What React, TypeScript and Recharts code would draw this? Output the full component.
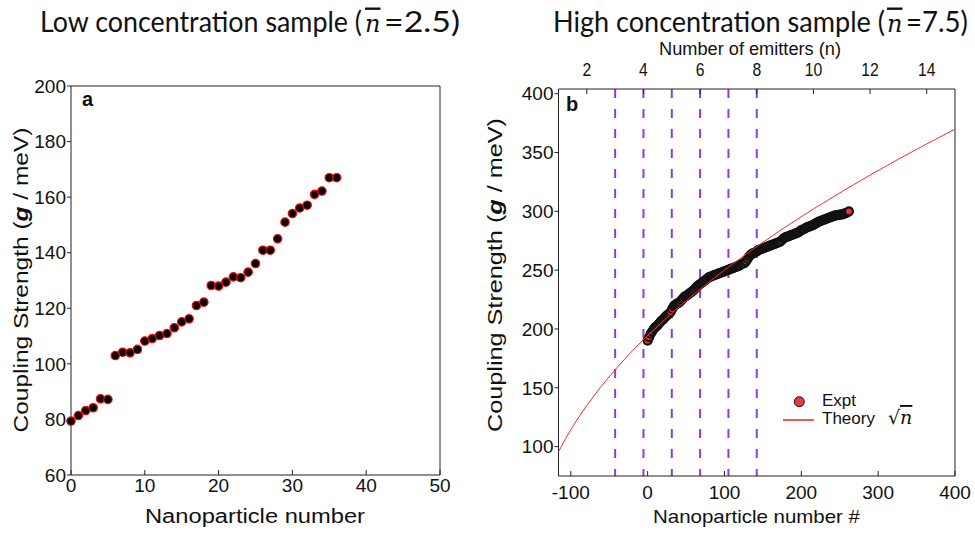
import React from 'react';
import { ComposedChart, Scatter, XAxis, YAxis, ReferenceLine } from 'recharts';

// ---------- Panel a : low concentration sample ----------
const lowIndex = [0, 1, 2, 3, 4, 5, 6, 7, 8, 9, 10, 11, 12, 13, 14, 15, 16, 17, 18, 19, 20, 21, 22, 23, 24, 25, 26, 27, 28, 29, 30, 31, 32, 33, 34, 35, 36];
const lowG = [79.4, 81.4, 83.2, 84.2, 87.4, 87.2, 103, 104.2, 104, 105.2, 108.2, 109.1, 110.2, 110.9, 113, 115.1, 116.2, 121, 122.2, 128.2, 128, 129.4, 131.3, 131, 133, 136.1, 140.9, 140.9, 145, 151, 154.1, 156.1, 157.1, 161, 162.2, 167, 167];
const lowXTicks = [0, 10, 20, 30, 40, 50];
const lowYTicks = [60, 80, 100, 120, 140, 160, 180, 200];

// ---------- Panel b : high concentration sample ----------
const highIndex = [0, 2, 4, 6, 8, 10, 12, 14, 16, 18, 20, 22, 24, 26, 28, 30, 32, 34, 36, 38, 40, 42, 44, 46, 48, 50, 52, 54, 56, 58, 60, 62, 64, 66, 68, 70, 72, 74, 76, 78, 80, 82, 84, 86, 88, 90, 92, 94, 96, 98, 100, 102, 104, 106, 108, 110, 112, 114, 116, 118, 120, 122, 124, 126, 128, 130, 132, 134, 136, 138, 140, 142, 144, 146, 148, 150, 152, 154, 156, 158, 160, 162, 164, 166, 168, 170, 172, 174, 176, 178, 180, 182, 184, 186, 188, 190, 192, 194, 196, 198, 200, 202, 204, 206, 208, 210, 212, 214, 216, 218, 220, 222, 224, 226, 228, 230, 232, 234, 236, 238, 240, 242, 244, 246, 248, 250, 252, 254, 256, 258, 260, 262];
const highG = [190, 193, 196, 198, 200, 201.5, 202.5, 204, 205.5, 207, 208, 209.5, 211, 212, 213, 214.5, 217, 219.5, 220.5, 221.5, 222, 223, 224.5, 226, 227.5, 228, 229, 230, 231, 232, 233, 234.5, 236, 237, 238, 239, 240, 241, 242, 243, 244, 244.5, 245, 245.5, 246, 246.5, 247, 247.5, 248, 248.5, 249, 249.5, 250, 250.5, 251, 251.5, 252, 252.5, 253, 253.5, 254, 255, 255.5, 256, 257.5, 259.5, 261.5, 263, 264, 264.5, 265, 266, 267, 267.5, 268, 268.5, 269, 269.5, 270, 270.5, 271, 271.5, 272, 272.5, 273, 273.5, 274, 275, 276.5, 277.5, 278, 278.5, 279, 279.5, 280, 280.5, 281, 281.5, 282, 283, 284, 284.5, 285, 286, 286.5, 287, 287.5, 288, 288.5, 289.5, 290, 291, 291.5, 292, 292.5, 293, 293.5, 294, 294.5, 295, 295.5, 296, 296.5, 296.5, 297, 297, 297.5, 297.5, 298, 298.5, 299, 300];
const theoryN = [1, 1.25, 1.5, 1.75, 2, 2.5, 3, 3.5, 4, 5, 6, 7, 8, 9, 10, 11, 12, 13, 14, 15];
const theoryG = [95.5, 106.8, 117, 126.3, 135.1, 151, 165.4, 178.7, 191, 213.5, 233.9, 252.7, 270.1, 286.5, 302, 316.7, 330.8, 344.3, 357.3, 369.9];
const emitterLines = [3, 4, 5, 6, 7, 8];
const highXTicks = [-100, 0, 100, 200, 300, 400];
const highYTicks = [100, 150, 200, 250, 300, 350, 400];
const topTicks = [2, 4, 6, 8, 10, 12, 14];

const lowData = lowIndex.map((x, i) => ({ x, g: lowG[i] }));
const highData = highIndex.map((x, i) => ({ x, g: highG[i] }));
const theoryData = theoryN.map((n, i) => ({ n, g: theoryG[i] }));

const AX = '#222';
const SANS = "'Liberation Sans', Arial, sans-serif";
const NARROW = "'Liberation Sans Narrow', 'Arial Narrow', 'Liberation Sans', sans-serif";
const TITLE = "Lato, 'Open Sans', sans-serif";
const SX = 0.85;
const TITLE_Y = 31.5;

const BottomTick = (p: any) => {
  const { x, y, payload, off } = p;
  return (
    <g>
      <line x1={x} x2={x} y1={y} y2={y - 5} stroke={AX} strokeWidth={1} />
      <text x={x} y={y + off} textAnchor="middle" fontSize={19} fontFamily={SANS} fill="#111">
        {payload.value}
      </text>
    </g>
  );
};

const TopTick = (p: any) => {
  const { x, y, payload } = p;
  return (
    <g>
      <line x1={x} x2={x} y1={y} y2={y + 5} stroke={AX} strokeWidth={1} />
      <text transform={`translate(${x},${y - 13}) scale(0.85,1)`} textAnchor="middle" fontSize={18.5} fontFamily={NARROW} fill="#111">
        {payload.value}
      </text>
    </g>
  );
};

const LowDot = (p: any) => (
  <circle cx={p.cx} cy={p.cy} r={4.2} fill="#000" stroke="#ff0000" strokeWidth={1.2} />
);
const HighDot = (p: any) => (
  <circle cx={p.cx} cy={p.cy} r={4} fill="#e83030" stroke="#111" strokeWidth={2.2} />
);
const NoDot = () => <g />;

const yTickStyle = { fontSize: 19, fontFamily: SANS, fill: '#111' };

const TitlePart = ({ x, w, children }: any) => (
  <text transform={`translate(${x},${TITLE_Y}) scale(${SX},1)`} fontSize={28.5} fontFamily={TITLE} fill="#111"
    textLength={w / SX} lengthAdjust="spacingAndGlyphs">
    {children}
  </text>
);

export default function App() {
  return (
    <div style={{ position: 'absolute', left: 0, top: 0, width: 975, height: 534, background: '#fff' }}>
      <div style={{ position: 'absolute', left: 0, top: 0 }}>
        <ComposedChart width={470} height={534} margin={{ top: 56, right: 20, bottom: 29, left: 11 }}>
          <XAxis xAxisId="b" type="number" dataKey="x" domain={[0, 50]} ticks={lowXTicks} interval={0}
            height={30} tickSize={0} tickMargin={0} tickLine={false}
            axisLine={{ stroke: AX }} tick={(p: any) => <BottomTick {...p} off={17} />} />
          <XAxis xAxisId="t" orientation="top" type="number" domain={[0, 50]}
            height={30} tick={false} tickLine={false} axisLine={{ stroke: AX }} />
          <YAxis yAxisId="l" type="number" dataKey="g" domain={[60, 200]} ticks={lowYTicks} interval={0}
            width={60} tickSize={4} tickMargin={1} axisLine={{ stroke: AX }}
            tickLine={{ stroke: AX }} tick={yTickStyle} />
          <YAxis yAxisId="r" orientation="right" type="number" domain={[60, 200]}
            width={10} tick={false} tickLine={false} axisLine={{ stroke: AX }} />
          <Scatter xAxisId="b" yAxisId="l" data={lowData} shape={LowDot} isAnimationActive={false} />
        </ComposedChart>
      </div>
      <div style={{ position: 'absolute', left: 470, top: 0 }}>
        <ComposedChart width={505} height={534} margin={{ top: 59, right: 10, bottom: 28, left: 28.5 }}>
          <XAxis xAxisId="b" type="number" dataKey="x" domain={[-116, 400]} ticks={highXTicks} interval={0}
            height={30} tickSize={0} tickMargin={0} tickLine={false}
            axisLine={{ stroke: AX }} tick={(p: any) => <BottomTick {...p} off={23} />} />
          <XAxis xAxisId="t" orientation="top" type="number" dataKey="n" domain={[1, 15]} ticks={topTicks}
            interval={0} height={30} tickSize={0} tickMargin={0} tickLine={false}
            axisLine={{ stroke: AX }} tick={(p: any) => <TopTick {...p} />} />
          <YAxis yAxisId="l" type="number" dataKey="g" domain={[75, 404]} ticks={highYTicks} interval={0}
            width={60} tickSize={4} tickMargin={1} axisLine={{ stroke: AX }}
            tickLine={{ stroke: AX }} tick={yTickStyle} />
          <YAxis yAxisId="r" orientation="right" type="number" domain={[75, 404]}
            width={10} tick={false} tickLine={false} axisLine={{ stroke: AX }} />
          <Scatter xAxisId="b" yAxisId="l" data={highData} shape={HighDot} isAnimationActive={false} />
          <Scatter xAxisId="t" yAxisId="l" data={theoryData} shape={NoDot} line={{ stroke: '#ff2a2a', strokeWidth: 1 }}
            lineType="joint" isAnimationActive={false} />
          {emitterLines.map((n) => (
            <ReferenceLine key={n} xAxisId="t" yAxisId="l" x={n} stroke="#8a3ce6" strokeWidth={2} strokeDasharray="9 11" />
          ))}
        </ComposedChart>
      </div>
      <svg width={975} height={534} style={{ position: 'absolute', left: 0, top: 0, pointerEvents: 'none' }}>
        <TitlePart x={40} w={322}>Low concentration sample (</TitlePart>
        <text x={365} y={TITLE_Y} fontSize={24} fontFamily="'DejaVu Serif', serif" fontStyle="italic" fill="#111" textDecoration="overline">n</text>
        <TitlePart x={384} w={76}>=2.5)</TitlePart>
        <TitlePart x={553} w={332}>High concentration sample (</TitlePart>
        <text x={887} y={TITLE_Y} fontSize={24} fontFamily="'DejaVu Serif', serif" fontStyle="italic" fill="#111" textDecoration="overline">n</text>
        <TitlePart x={906} w={62}>=7.5)</TitlePart>
        <text x={750} y={55} textAnchor="middle" fontSize={18} fontFamily={NARROW} fill="#111" textLength={182} lengthAdjust="spacingAndGlyphs">
          Number of emitters (n)
        </text>
        <text x={82} y={106} fontSize={20} fontWeight="bold" fontFamily={SANS} fill="#111">a</text>
        <text x={566} y={111} fontSize={20} fontWeight="bold" fontFamily={SANS} fill="#111">b</text>
        <text transform="translate(27.5,280) rotate(-90)" textAnchor="middle" fontSize={20.5} fontFamily={SANS} fill="#111" textLength={305} lengthAdjust="spacingAndGlyphs">
          Coupling Strength (<tspan fontWeight="bold" fontStyle="italic">g</tspan> / meV)
        </text>
        <text transform="translate(502,275) rotate(-90)" textAnchor="middle" fontSize={21} fontFamily={SANS} fill="#111" textLength={314} lengthAdjust="spacingAndGlyphs">
          Coupling Strength (<tspan fontWeight="bold" fontStyle="italic">g</tspan> / meV)
        </text>
        <text x={255} y={523} textAnchor="middle" fontSize={20} fontFamily={SANS} fill="#111" textLength={220} lengthAdjust="spacingAndGlyphs">
          Nanoparticle number
        </text>
        <text x={756.5} y={523} textAnchor="middle" fontSize={19} fontFamily={SANS} fill="#111" textLength={207} lengthAdjust="spacingAndGlyphs">
          Nanoparticle number #
        </text>
        {/* legend */}
        <circle cx={799.3} cy={401.7} r={5} fill="#ee3838" stroke="#111" strokeWidth={1} />
        <text x={822} y={406} fontSize={17} fontFamily={SANS} fill="#111">Expt</text>
        <line x1={783} x2={814} y1={420} y2={420} stroke="#ff5555" strokeWidth={2} />
        <text x={822} y={424} fontSize={17} fontFamily={SANS} fill="#111">Theory</text>
        <text x={888} y={424} fontSize={19} fontFamily="'DejaVu Serif', serif" fill="#111">
          √<tspan fontStyle="italic" textDecoration="overline">n</tspan>
        </text>
      </svg>
    </div>
  );
}
